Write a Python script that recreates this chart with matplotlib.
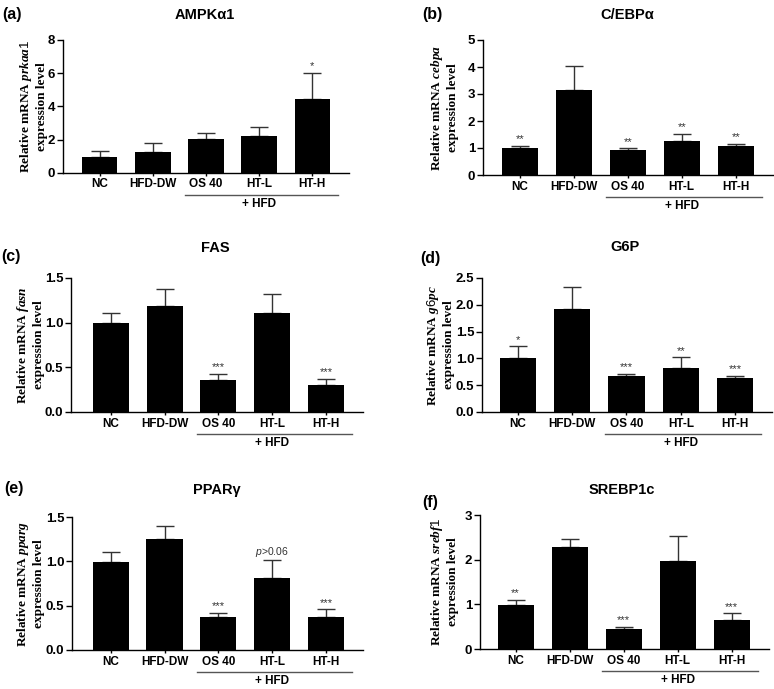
import matplotlib.pyplot as plt
import matplotlib.transforms as mtransforms

plt.rcParams['font.family'] = 'Liberation Sans'
plt.rcParams['mathtext.fontset'] = 'custom'
plt.rcParams['mathtext.rm'] = 'Liberation Sans'
plt.rcParams['mathtext.it'] = 'Liberation Serif:italic:bold'
plt.rcParams['mathtext.sf'] = 'Liberation Sans:italic'

groups = ["NC", "HFD-DW", "OS 40", "HT-L", "HT-H"]

ampk_mean = [0.93, 1.27, 2.01, 2.21, 4.42]
ampk_err = [0.40, 0.54, 0.40, 0.52, 1.61]
ampk_sig = ["", "", "", "", "*"]

cebpa_mean = [0.99, 3.15, 0.92, 1.27, 1.06]
cebpa_err = [0.09, 0.90, 0.07, 0.26, 0.09]
cebpa_sig = ["**", "", "**", "**", "**"]

fasn_mean = [1.00, 1.19, 0.36, 1.11, 0.30]
fasn_err = [0.11, 0.19, 0.07, 0.21, 0.07]
fasn_sig = ["", "", "***", "", "***"]

g6pc_mean = [1.00, 1.93, 0.68, 0.82, 0.63]
g6pc_err = [0.23, 0.40, 0.03, 0.20, 0.05]
g6pc_sig = ["*", "", "***", "**", "***"]

pparg_mean = [0.99, 1.25, 0.37, 0.81, 0.37]
pparg_err = [0.12, 0.15, 0.05, 0.20, 0.09]
pparg_sig = ["", "", "***", r"$\mathsf{p}$>0.06", "***"]

srebf1_mean = [0.99, 2.29, 0.44, 1.96, 0.64]
srebf1_err = [0.11, 0.17, 0.06, 0.58, 0.16]
srebf1_sig = ["**", "", "***", "", "***"]

W, H = 774, 689
fig = plt.figure(figsize=(W / 100, H / 100), dpi=100)

# (label, title, gene, mean, err, sig, yticks, ticklabels, box px (l, t, r, b), xlim, ylabel offset px, title pos, label pos)
panels = [
    ("(a)", "AMPK\u03b11", "prkaa1", ampk_mean, ampk_err, ampk_sig,
     [0, 2, 4, 6, 8], ["0", "2", "4", "6", "8"],
     (63, 40, 349, 172.7), (-0.69, 4.69), -30, (205, 15), (2, 15)),
    ("(b)", "C/EBP\u03b1", "cebpa", cebpa_mean, cebpa_err, cebpa_sig,
     [0, 1, 2, 3, 4, 5], ["0", "1", "2", "3", "4", "5"],
     (483, 40, 773, 175), (-0.68, 4.69), -39, (627, 15), (422, 15)),
    ("(c)", "FAS", "fasn", fasn_mean, fasn_err, fasn_sig,
     [0, 0.5, 1.0, 1.5], ["0.0", "0.5", "1.0", "1.5"],
     (71, 278, 363, 412), (-0.74, 4.69), -41, (215, 248), (1, 257)),
    ("(d)", "G6P", "g6pc", g6pc_mean, g6pc_err, g6pc_sig,
     [0, 0.5, 1.0, 1.5, 2.0, 2.5], ["0.0", "0.5", "1.0", "1.5", "2.0", "2.5"],
     (482, 278, 772, 412), (-0.66, 4.68), -42, (625, 247), (420, 258)),
    ("(e)", "PPAR\u03b3", "pparg", pparg_mean, pparg_err, pparg_sig,
     [0, 0.5, 1.0, 1.5], ["0.0", "0.5", "1.0", "1.5"],
     (72, 517, 363, 650), (-0.72, 4.69), -42, (217, 490), (4, 488)),
    ("(f)", "SREBP1c", "srebf1", srebf1_mean, srebf1_err, srebf1_sig,
     [0, 1, 2, 3], ["0", "1", "2", "3"],
     (480, 515, 769, 649), (-0.66, 4.69), -36, (622, 490), (422, 503)),
]

for (plabel, title, gene, mean, err, sig, yt, ytl, box, xlim, ylab_dx,
     tpos, lpos) in panels:
    l, t, r, b = box
    ax = fig.add_axes([l / W, 1 - b / H, (r - l) / W, (b - t) / H])
    x = list(range(len(groups)))
    ax.bar(x, mean, width=0.67, color='black', zorder=3)
    ax.errorbar(x, mean, yerr=[[0] * len(err), err], fmt='none',
                ecolor='#333333', elinewidth=1, capsize=6.5, capthick=1, zorder=2)
    for i, s in enumerate(sig):
        if s:
            fs = 7.5 if 'p' in s else 8
            ax.annotate(s, (i, mean[i] + err[i]), xytext=(0, 1),
                        textcoords='offset points', ha='center', va='bottom',
                        fontsize=fs, color='#333333')
    ax.set_xlim(*xlim)
    ax.set_ylim(yt[0], yt[-1])
    ax.set_yticks(yt)
    ax.set_yticklabels(ytl, fontsize=9.5, fontweight='bold')
    ax.set_xticks(x)
    ax.set_xticklabels(groups, fontsize=8.5, fontweight='bold')
    ax.tick_params(axis='y', direction='out', length=4, width=1, pad=1.5)
    ax.tick_params(axis='x', direction='out', length=2.5, width=1, pad=1.5)
    for side in ['top', 'right']:
        ax.spines[side].set_visible(False)
    for side in ['left', 'bottom']:
        ax.spines[side].set_linewidth(1)

    ax.text(ylab_dx / (r - l), 0.5,
            "Relative mRNA $\\mathit{" + gene + "}$\nexpression level",
            transform=ax.transAxes, rotation=90, ha='center', va='center',
            multialignment='center', fontsize=9.5, fontweight='bold',
            family='Liberation Serif', linespacing=1.25)

    trans = ax.get_xaxis_transform()
    line_off = mtransforms.ScaledTranslation(0, -22 / 100, fig.dpi_scale_trans)
    text_off = mtransforms.ScaledTranslation(0, -31 / 100, fig.dpi_scale_trans)
    ax.plot([1.6, 4.48], [0, 0], transform=trans + line_off, color='#555555',
            lw=1, clip_on=False)
    ax.text(3, 0, "+ HFD", transform=trans + text_off, ha='center',
            va='center', fontsize=8.5, fontweight='bold')

    fig.text(tpos[0] / W, 1 - tpos[1] / H, title, ha='center', va='center',
             fontsize=10.5, fontweight='bold')
    fig.text(lpos[0] / W, 1 - lpos[1] / H, plabel, ha='left', va='center',
             fontsize=11.5, fontweight='bold')

fig.savefig("out.png", dpi=100)
